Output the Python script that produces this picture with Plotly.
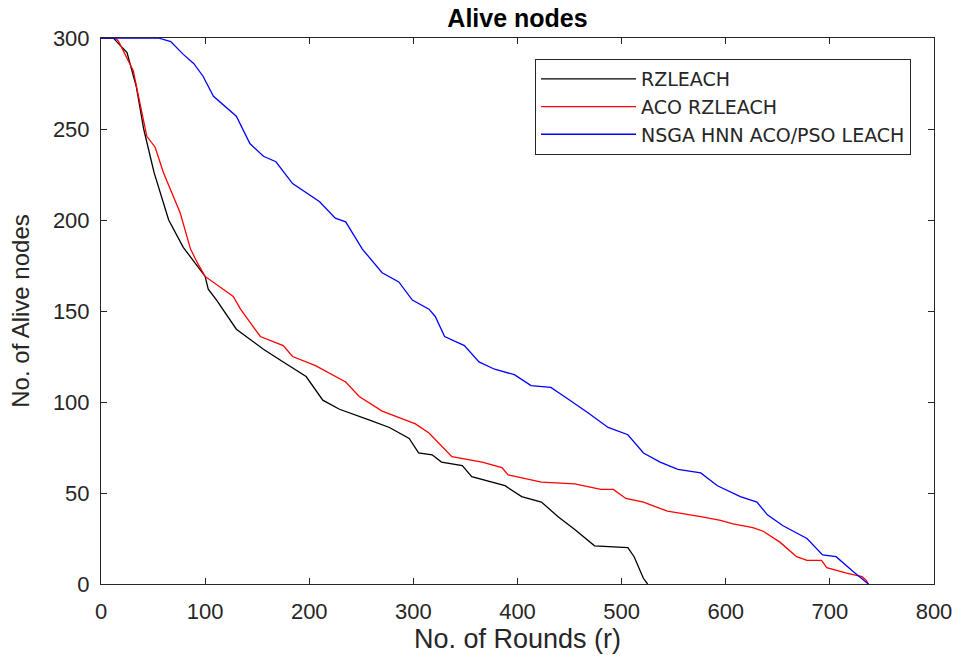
import plotly.graph_objects as go

# RZLEACH
rz_r = [0, 12, 15, 25, 34, 41, 51, 65, 79, 95, 100, 103, 111, 130, 156, 175, 197, 213, 229, 258, 277, 296, 305, 318, 327, 347, 356, 388, 404, 423, 439, 455, 474, 506, 512, 521, 525]
rz_n = [300, 300, 298, 292, 273, 250, 226, 200, 185, 173, 169, 162, 156, 140, 129, 122, 114, 101, 96, 90, 86, 80, 72, 71, 67, 65, 59, 54, 48, 45, 37, 30, 21, 20, 15, 3, 0]

# ACO RZLEACH
aco_r = [0, 14, 17, 31, 36, 44, 52, 60, 76, 79, 86, 93, 100, 127, 134, 153, 175, 184, 206, 235, 248, 270, 302, 315, 337, 366, 385, 391, 423, 455, 480, 492, 504, 521, 544, 576, 595, 607, 626, 636, 652, 668, 678, 692, 697, 716, 731, 735, 737]
aco_n = [300, 300, 298, 282, 268, 246, 240, 226, 204, 198, 184, 176, 169, 158, 151, 136, 131, 125, 120, 111, 103, 95, 88, 83, 70, 67, 64, 60, 56, 55, 52, 52, 47, 45, 40, 37, 35, 33, 31, 29, 23, 15, 13, 13, 9, 6, 4, 2, 0]

# NSGA HNN ACO/PSO LEACH
ns_r = [0, 55, 67, 79, 89, 98, 108, 120, 130, 143, 156, 168, 184, 210, 225, 235, 251, 270, 286, 299, 315, 321, 330, 349, 363, 378, 397, 413, 432, 445, 468, 487, 506, 521, 537, 554, 576, 592, 614, 630, 640, 655, 678, 693, 706, 722, 735, 737]
ns_n = [300, 300, 298, 291, 286, 279, 268, 262, 257, 242, 235, 232, 220, 210, 201, 199, 184, 171, 166, 156, 151, 147, 136, 131, 122, 118, 115, 109, 108, 103, 94, 86, 82, 72, 67, 63, 61, 54, 48, 45, 38, 32, 25, 16, 15, 7, 1, 0]

x_ticks = [0, 100, 200, 300, 400, 500, 600, 700, 800]
y_ticks = [0, 50, 100, 150, 200, 250, 300]

TXT = "#262626"
FONT = "Liberation Sans, Arial, sans-serif"

fig = go.Figure()
fig.add_trace(go.Scatter(x=rz_r, y=rz_n, mode="lines", name="RZLEACH",
                         line=dict(color="#000000", width=1.3)))
fig.add_trace(go.Scatter(x=aco_r, y=aco_n, mode="lines", name="ACO RZLEACH",
                         line=dict(color="#ff0000", width=1.3)))
fig.add_trace(go.Scatter(x=ns_r, y=ns_n, mode="lines", name="NSGA HNN ACO/PSO LEACH",
                         line=dict(color="#0000ff", width=1.3)))

axis_common = dict(showgrid=False, zeroline=False, showline=True, linecolor=TXT,
                   linewidth=1, mirror="ticks", ticks="inside", ticklen=6,
                   tickcolor=TXT, automargin=False,
                   tickfont=dict(family=FONT, size=22, color=TXT))

L, R, T, B = 101, 26, 38, 72
fig.update_layout(
    width=960, height=656,
    margin=dict(l=L, r=R, t=T, b=B),
    paper_bgcolor="white", plot_bgcolor="white",
    title=dict(text="<b>Alive nodes</b>", x=(L + 960 - R) / 2 / 960, xanchor="center",
               y=1 - 18 / 656, yanchor="middle", automargin=False,
               font=dict(family=FONT, size=25, color="#000000")),
    xaxis=dict(range=[0, 800], tickvals=x_ticks, ticklabelstandoff=8,
               title=dict(text="No. of Rounds (r)", standoff=0,
                          font=dict(family=FONT, size=27, color=TXT)),
               **axis_common),
    yaxis=dict(range=[0, 300], tickvals=y_ticks, ticklabelstandoff=6,
               title=dict(text="No. of Alive nodes", standoff=16,
                          font=dict(family=FONT, size=24, color=TXT)),
               **axis_common),
    legend=dict(x=(911 - L) / (960 - L - R), xanchor="right",
                y=(584 - 59) / (656 - T - B), yanchor="top",
                bgcolor="white", bordercolor=TXT, borderwidth=1,
                font=dict(family="DejaVu Sans, sans-serif", size=19, color=TXT),
                itemwidth=95, tracegroupgap=0),
    showlegend=True,
)

fig.write_html("out.html")
